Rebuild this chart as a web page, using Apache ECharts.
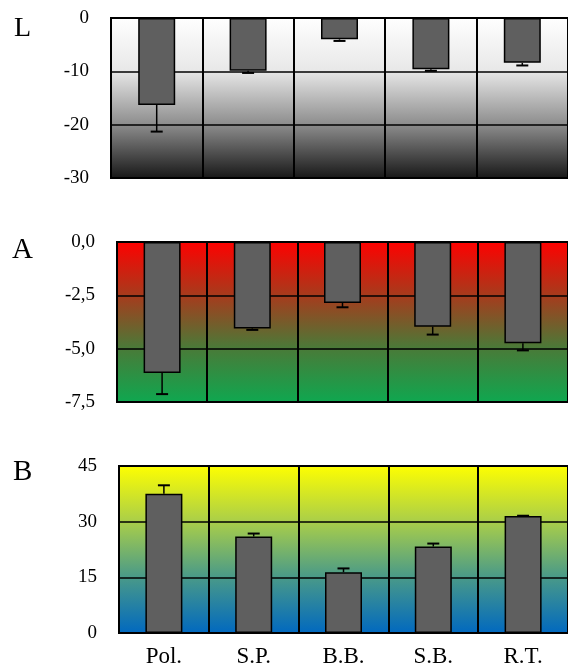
<!DOCTYPE html>
<html>
<head>
<meta charset="utf-8">
<script src="https://cdn.jsdelivr.net/npm/echarts@6/dist/echarts.min.js"></script>
<style>
html,body{margin:0;padding:0;background:#fff;}
#chart{width:568px;height:669px;}
</style>
</head>
<body>
<div id="chart"></div>
<script>
const categories = ['Pol.', 'S.P.', 'B.B.', 'S.B.', 'R.T.'];
const lValues = [-16.3, -9.9, -4.0, -9.6, -8.4];
const lErrors = [5.0, 0.4, 0.3, 0.3, 0.5];
const aValues = [-6.14, -4.05, -2.86, -3.97, -4.75];
const aErrors = [0.99, 0.07, 0.2, 0.37, 0.33];
const bValues = [37.5, 26.0, 16.4, 23.3, 31.5];
const bErrors = [2.3, 0.8, 1.0, 0.8, 0.1];
const panelLetters = ['L', 'A', 'B'];

const FONT = '"Liberation Serif", "DejaVu Serif", serif';
const chart = echarts.init(document.getElementById('chart'), null, {renderer: 'canvas'});
const G = echarts.graphic.LinearGradient;

const grids = [
  {left: 111, top: 18, width: 459, height: 160,
   bg: new G(0, 0, 0, 1, [{offset: 0, color: '#ffffff'}, {offset: 0.33, color: '#e8e8e8'}, {offset: 0.66, color: '#8e8e8e'}, {offset: 1, color: '#161616'}])},
  {left: 117, top: 242, width: 453, height: 160,
   bg: new G(0, 0, 0, 1, [{offset: 0, color: '#ff0000'}, {offset: 0.33, color: '#a83a1c'}, {offset: 0.66, color: '#4a7a38'}, {offset: 1, color: '#0ea850'}])},
  {left: 119, top: 466, width: 451, height: 167,
   bg: new G(0, 0, 0, 1, [{offset: 0, color: '#ffff00'}, {offset: 0.33, color: '#abcf48'}, {offset: 0.66, color: '#4a9a88'}, {offset: 1, color: '#0068c0'}])}
];

const yDefs = [
  {min: -30, max: 0, interval: 10, fmt: v => String(v)},
  {min: -7.5, max: 0, interval: 2.5, fmt: v => v.toFixed(1).replace('.', ',').replace('-0,0', '0,0')},
  {min: 0, max: 45, interval: 15, fmt: v => String(v)}
];
const vals = [lValues, aValues, bValues];
const errs = [lErrors, aErrors, bErrors];

function errRender(params, api) {
  const p1 = api.coord([api.value(0), api.value(1)]);
  const p2 = api.coord([api.value(0), api.value(2)]);
  const cap = 6;
  return {
    type: 'group',
    children: [
      {type: 'line', shape: {x1: p1[0], y1: p1[1], x2: p2[0], y2: p2[1]}, style: {stroke: '#000', lineWidth: 1.5}},
      {type: 'line', shape: {x1: p2[0] - cap, y1: p2[1], x2: p2[0] + cap, y2: p2[1]}, style: {stroke: '#000', lineWidth: 2}}
    ]
  };
}

const option = {
  animation: false,
  backgroundColor: '#fff',
  grid: grids.map(g => ({left: g.left, top: g.top, width: g.width, height: g.height, show: true,
    backgroundColor: g.bg, borderColor: '#000', borderWidth: 2})),
  xAxis: grids.map((g, i) => ({
    type: 'category', gridIndex: i, data: categories,
    axisLine: {show: false}, axisTick: {show: false},
    axisLabel: {show: i === 2, fontFamily: FONT, fontSize: 23, color: '#000', margin: 12},
    splitLine: {show: true, lineStyle: {color: '#000', width: 2}}
  })),
  yAxis: yDefs.map((d, i) => ({
    type: 'value', gridIndex: i, min: d.min, max: d.max, interval: d.interval,
    axisLine: {show: false}, axisTick: {show: false},
    axisLabel: {fontFamily: FONT, fontSize: 19, color: '#000', margin: 22, formatter: d.fmt},
    splitLine: {show: true, lineStyle: {color: '#000', width: 1.5}}
  })),
  series: [].concat(
    vals.map((v, i) => ({
      type: 'bar', xAxisIndex: i, yAxisIndex: i, data: v, barWidth: 37,
      itemStyle: {color: '#5f5f5f', borderColor: '#000', borderWidth: 1.5}, z: 3
    })),
    vals.map((v, i) => ({
      type: 'custom', xAxisIndex: i, yAxisIndex: i, renderItem: errRender, z: 4,
      data: v.map((y, k) => [k, y, y + (y < 0 ? -1 : 1) * errs[i][k]])
    }))
  ),
  graphic: [
    {type: 'text', left: 14, top: 15, style: {text: panelLetters[0], font: '28px ' + FONT, fill: '#000'}},
    {type: 'text', left: 12, top: 236, style: {text: panelLetters[1], font: '29px ' + FONT, fill: '#000'}},
    {type: 'text', left: 13, top: 458, style: {text: panelLetters[2], font: '29px ' + FONT, fill: '#000'}}
  ]
};
chart.setOption(option);
</script>
</body>
</html>
